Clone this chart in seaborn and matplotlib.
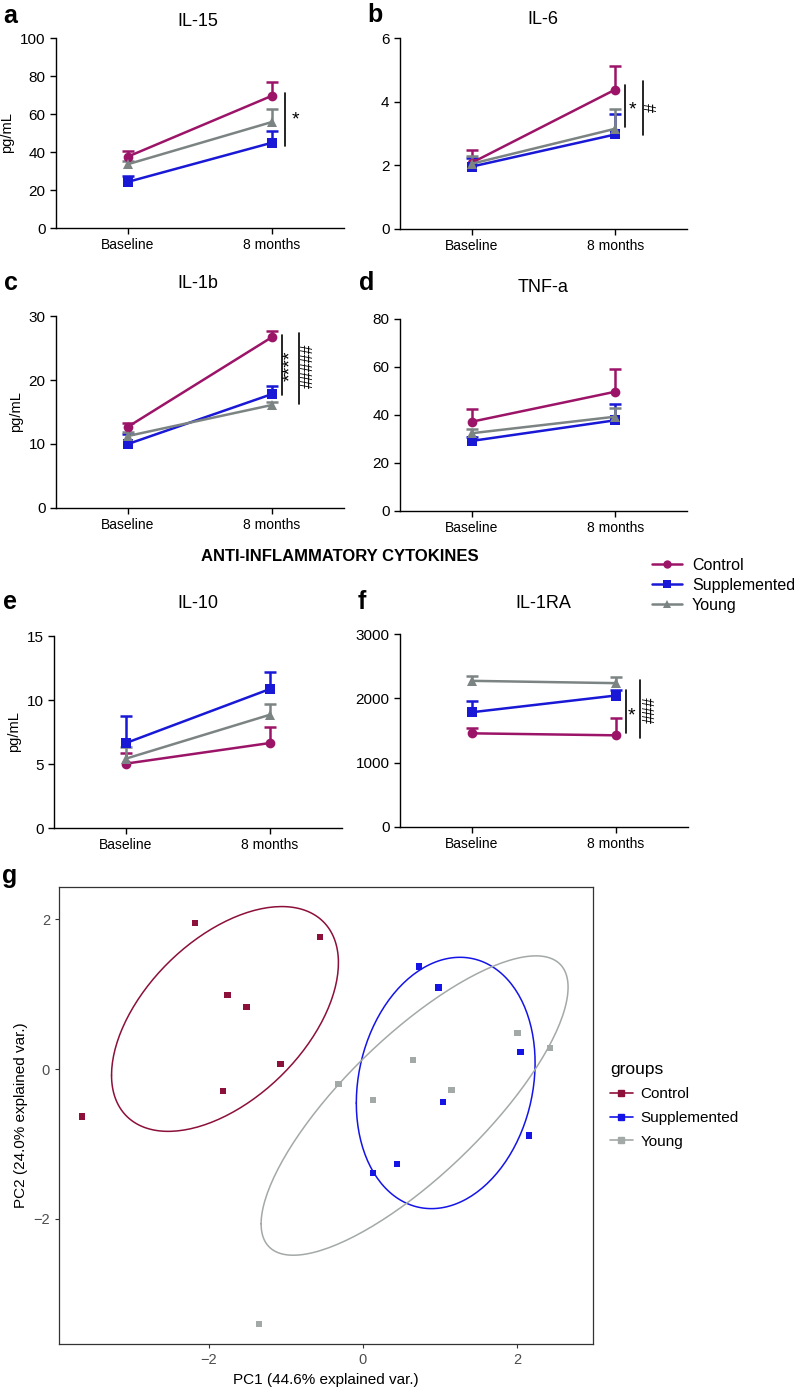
import numpy as np
import pandas as pd
import matplotlib
matplotlib.use('Agg')
import matplotlib.pyplot as plt
from matplotlib.lines import Line2D
import seaborn as sns

# ---- data ----
groups = ['Control', 'Supplemented', 'Young']
timepoints = ['Baseline', '8 months']

il15_mean = [[37.6, 69.6], [24.3, 44.9], [33.6, 55.8]]
il15_sem = [[3.1, 7.3], [3.3, 6.3], [1.9, 6.6]]
il6_mean = [[2.08, 4.38], [1.96, 2.97], [2.05, 3.15]]
il6_sem = [[0.41, 0.73], [0.26, 0.65], [0.25, 0.62]]
il1b_mean = [[12.7, 26.7], [10.0, 17.8], [11.25, 16.1]]
il1b_sem = [[0.6, 1.0], [1.5, 1.3], [0.7, 0.5]]
tnfa_mean = [[37.2, 49.7], [29.2, 37.8], [32.4, 39.3]]
tnfa_sem = [[5.3, 9.6], [1.8, 6.6], [1.6, 3.8]]
il10_mean = [[5.03, 6.64], [6.64, 10.86], [5.42, 8.85]]
il10_sem = [[0.83, 1.25], [2.11, 1.33], [0.91, 0.81]]
il1ra_mean = [[1456, 1425], [1784, 2044], [2272, 2236]]
il1ra_sem = [[88, 275], [176, 90], [68, 94]]

pc1_control = [-2.18, -0.56, -1.76, -1.51, -1.07, -1.82, -3.65]
pc2_control = [1.95, 1.76, 0.99, 0.83, 0.07, -0.29, -0.63]
pc1_supp = [0.13, 0.44, 0.73, 0.98, 2.05, 1.04, 2.16]
pc2_supp = [-1.39, -1.27, 1.37, 1.09, 0.23, -0.44, -0.89]
pc1_young = [-0.32, 0.13, 0.65, 1.15, 2.01, 2.43, -1.35]
pc2_young = [-0.20, -0.41, 0.12, -0.28, 0.48, 0.28, -3.40]

# ---- style ----
sns.set_style('ticks')
plt.rcParams['font.family'] = ['Liberation Sans', 'DejaVu Sans']
plt.rcParams['axes.linewidth'] = 1.0
plt.rcParams['text.color'] = 'black'
plt.rcParams['axes.labelcolor'] = 'black'
plt.rcParams['xtick.color'] = 'black'
plt.rcParams['ytick.color'] = 'black'
plt.rcParams['axes.edgecolor'] = 'black'

line_pal = {'Control': '#9C1468', 'Supplemented': '#1818D6', 'Young': '#7C8383'}
markers = {'Control': 'o', 'Supplemented': 's', 'Young': '^'}
pca_pal = {'Control': '#8C1039', 'Supplemented': '#1414E6', 'Young': '#A3A9A7'}

W, H = 798, 1396
fig = plt.figure(figsize=(W / 100, H / 100), dpi=100)


def px_rect(l, t, r, b):
    return [l / W, 1 - b / H, (r - l) / W, (b - t) / H]


def cytokine_panel(rect, mean, sem, ymax, yticks, ylabel, sigs):
    ax = fig.add_axes(px_rect(*rect))
    rows = []
    for g, m in zip(groups, mean):
        for t, v in enumerate(m):
            rows.append({'group': g, 'time': t, 'value': v})
    df = pd.DataFrame(rows)
    for g, m, s in zip(groups, mean, sem):
        eb = ax.errorbar([0, 1], m, yerr=[[0, 0], s], fmt='none', ecolor=line_pal[g],
                         elinewidth=1.8, capsize=4, capthick=1.8, zorder=2)
        eb[1][0].set_visible(False)  # one-sided bars, hide the lower caps
    sns.lineplot(data=df, x='time', y='value', hue='group', style='group',
                 markers=markers, dashes=False, palette=line_pal, hue_order=groups,
                 markersize=7, markeredgewidth=0, linewidth=1.8, legend=False,
                 ax=ax, zorder=3)
    ax.set_xlim(-0.5, 1.5)
    ax.set_ylim(0, ymax)
    ax.set_yticks(yticks)
    ax.set_xticks([0, 1])
    ax.set_xticklabels(timepoints)
    ax.set_xlabel('')
    ax.set_ylabel(ylabel, fontsize=10.5)
    ax.tick_params(axis='x', labelsize=10, length=4, width=1)
    ax.tick_params(axis='y', labelsize=11, length=4, width=1)
    sns.despine(ax=ax)
    for x, y0, y1, lab, tx, ty, rot in sigs:
        ax.plot([x, x], [y0, y1], color='black', lw=1.2, clip_on=False)
        size = 14 if '*' in lab else 11.5
        ax.text(tx, ty, lab, fontsize=size, rotation=rot, ha='center', va='center')
    return ax


def label(x, y, s, size=17, weight='bold'):
    fig.text(x / W, 1 - y / H, s, fontsize=size, fontweight=weight, ha='center', va='center')


cytokine_panel((56, 38, 344, 228), il15_mean, il15_sem, 100, range(0, 101, 20), 'pg/mL',
               [(1.09, 43, 71, '*', 1.16, 57, 0)])
cytokine_panel((400, 38, 687, 229), il6_mean, il6_sem, 6, [0, 2, 4, 6], '',
               [(1.07, 3.19, 4.51, '*', 1.12, 3.75, 0), (1.19, 2.96, 4.66, '#', 1.26, 3.83, 90)])
cytokine_panel((56, 316, 344, 508), il1b_mean, il1b_sem, 30, [0, 10, 20, 30], 'pg/mL',
               [(1.07, 17.7, 27.0, '****', 1.13, 22.3, 90), (1.19, 16.25, 27.3, '#####', 1.25, 22.2, 90)])
cytokine_panel((400, 319, 687, 511), tnfa_mean, tnfa_sem, 80, range(0, 81, 20), '', [])
cytokine_panel((54, 636, 342, 828), il10_mean, il10_sem, 15, [0, 5, 10, 15], 'pg/mL', [])
cytokine_panel((400, 634, 688, 827), il1ra_mean, il1ra_sem, 3000, [0, 1000, 2000, 3000], '',
               [(1.07, 1456, 2122, '*', 1.11, 1720, 0), (1.17, 1378, 2288, '###', 1.24, 1820, 90)])

# titles and panel letters
for x, y, s in [(198, 22, 'IL-15'), (543, 20, 'IL-6'), (198, 283, 'IL-1b'), (543, 287, 'TNF-a'),
                (198, 603, 'IL-10'), (543, 603, 'IL-1RA')]:
    label(x, y, s, size=13, weight='normal')
for x, y, s in [(10, 16, 'a'), (375, 15, 'b'), (11, 283, 'c'), (367, 283, 'd'),
                (10, 602, 'e'), (362, 602, 'f'), (10, 876, 'g')]:
    label(x, y, s, size=18)
label(340, 557, 'ANTI-INFLAMMATORY CYTOKINES', size=12)

# legend for line panels
handles = [Line2D([], [], color=line_pal[g], marker=markers[g], markersize=6, lw=1.8,
                  markeredgewidth=0) for g in groups]
fig.legend(handles, groups, loc='upper left', bbox_to_anchor=(652 / W, 1 - 558 / H),
           frameon=False, fontsize=11.5, handlelength=1.9, handletextpad=0.6, labelspacing=0.3,
           borderaxespad=0, borderpad=0)

# ---- PCA panel ----
ax = fig.add_axes(px_rect(59, 887, 593, 1344))
pca_df = pd.DataFrame({
    'PC1': pc1_control + pc1_supp + pc1_young,
    'PC2': pc2_control + pc2_supp + pc2_young,
    'groups': ['Control'] * len(pc1_control) + ['Supplemented'] * len(pc1_supp) + ['Young'] * len(pc1_young),
})
# 68% normal-data ellipses per group (as ggbiplot draws them)
ed = np.sqrt(-2 * np.log(1 - 0.68))
theta = np.linspace(-np.pi, np.pi, 200)
circle = np.column_stack([np.cos(theta), np.sin(theta)])
for g, sub in pca_df.groupby('groups'):
    pts = sub[['PC1', 'PC2']].to_numpy()
    sigma = np.cov(pts, rowvar=False)
    chol = np.linalg.cholesky(sigma).T
    ell = circle @ chol * ed + pts.mean(axis=0)
    ax.plot(ell[:, 0], ell[:, 1], color=pca_pal[g], lw=1.1)
sns.scatterplot(data=pca_df, x='PC1', y='PC2', hue='groups', hue_order=groups, palette=pca_pal,
                marker='s', s=22, linewidth=0, legend=False, ax=ax, zorder=3)
ax.set_xlim(-3.95, 2.99)
ax.set_ylim(-3.67, 2.43)
ax.set_xticks([-2, 0, 2])
ax.set_yticks([-2, 0, 2])
ax.set_xlabel('PC1 (44.6% explained var.)', fontsize=11)
ax.set_ylabel('PC2 (24.0% explained var.)', fontsize=11)
ax.tick_params(labelsize=10.5, labelcolor='#4D4D4D', color='#333333', length=3, width=0.8)
for sp in ax.spines.values():
    sp.set_color('#333333')
    sp.set_linewidth(0.9)

pca_handles = [Line2D([], [], color=pca_pal[g], marker='s', markersize=4, lw=1.2) for g in groups]
fig.legend(pca_handles, groups, title='groups', loc='upper left', bbox_to_anchor=(610 / W, 1 - 1062 / H),
           frameon=False, fontsize=11, title_fontsize=12.5, handlelength=1.5, handletextpad=0.5,
           labelspacing=0.65, borderaxespad=0, borderpad=0, alignment='left')

fig.savefig('out.png', dpi=100)
